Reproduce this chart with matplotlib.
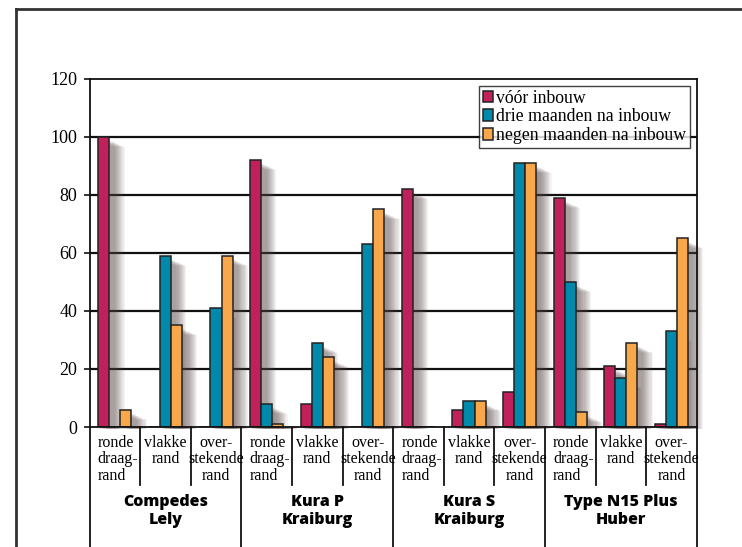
import matplotlib
matplotlib.use("Agg")
import matplotlib.pyplot as plt
from matplotlib.patches import Rectangle
from matplotlib.lines import Line2D
import numpy as np

# ---- data ----
groups = ["Compedes\nLely", "Kura P\nKraiburg", "Kura S\nKraiburg", "Type N15 Plus\nHuber"]
subcats = ["ronde\ndraag-\nrand", "vlakke\nrand", "over-\nstekende\nrand"]
series_names = ["vóór inbouw", "drie maanden na inbouw", "negen maanden na inbouw"]
voor = [100, 0, 0, 92, 8, 0, 82, 6, 12, 79, 21, 1]
drie = [0, 59, 41, 8, 29, 63, 0, 9, 91, 50, 17, 33]
negen = [6, 35, 59, 1, 24, 75, 0, 9, 91, 5, 29, 65]
yticks = [0, 20, 40, 60, 80, 100, 120]

colors = ["#C0215A", "#0189AB", "#F9A74B"]
edge = "#222222"

W, H = 742, 547
fig = plt.figure(figsize=(W / 100, H / 100), dpi=100)
fig.patch.set_facecolor("white")

# axes in pixel terms
L, R, T, B = 89.5, 696.7, 78.7, 427.0
ax = fig.add_axes([L / W, 1 - B / H, (R - L) / W, (B - T) / H])
n = len(voor)
ax.set_xlim(0, n)
ax.set_ylim(0, 120)

px_x = n / (R - L)        # data units per pixel in x
px_y = 120 / (B - T)      # data units per pixel in y

serif = "Liberation Serif"

# gridlines
for v in yticks[1:-1]:
    ax.axhline(v, color="#111111", lw=1.6, zorder=1)

bw = 0.218
offsets = [-bw, 0, bw]
data = [voor, drie, negen]

# soft drop shadows
for si, vals in enumerate(data):
    for i, v in enumerate(vals):
        if v <= 0:
            continue
        x0 = i + 0.5 + offsets[si] - bw / 2
        for k in range(1, 15):
            dx = k * 1.1 * px_x
            dy = (3 + k * 0.5) * px_y
            top = max(v - dy, 0)
            ax.add_patch(Rectangle((x0 + dx, -2 * px_y), bw, top + 2 * px_y,
                                   facecolor="#5a4848", edgecolor="none",
                                   alpha=0.065, zorder=2, clip_on=False))

# bars
for si, vals in enumerate(data):
    xs = np.arange(n) + 0.5 + offsets[si]
    ax.bar(xs, vals, width=bw, color=colors[si], edgecolor=edge, linewidth=1.1,
           zorder=3, label=series_names[si])

# spines / ticks
for s in ["left", "top", "right", "bottom"]:
    ax.spines[s].set_color("#111111")
    ax.spines[s].set_linewidth(1.3)
    ax.spines[s].set_zorder(4)
ax.set_yticks(yticks)
ax.set_yticklabels([str(v) for v in yticks], fontfamily=serif, fontsize=13)
ax.tick_params(axis="y", length=4, width=1.2, pad=5, direction="out", color="#111111")
ax.set_xticks([])

# legend
leg = ax.legend(loc="upper right", bbox_to_anchor=(0.989, 0.979), frameon=True,
                prop={"family": serif, "size": 12.8}, handlelength=0.55, handleheight=0.6,
                handletextpad=0.2, borderpad=0.2, labelspacing=0.1, fancybox=False,
                borderaxespad=0)
leg.get_frame().set_edgecolor("#111111")
leg.get_frame().set_linewidth(1.0)
leg.set_zorder(10)

# lines below axis
trans = ax.get_xaxis_transform()
def ay(py):
    return (B - py) / (B - T)

for i in range(n + 1):
    if i % 3 == 0:
        y_end = ay(547 + 5)
    else:
        y_end = ay(485)
    ax.add_line(Line2D([i, i], [0, y_end], transform=trans, color="#111111",
                       lw=1.3, clip_on=False))

# subcategory labels
for i in range(n):
    lab = subcats[i % 3]
    if i % 3 == 0:
        ax.text(i + 0.16, ay(435), lab, transform=trans, ha="left", va="top",
                fontfamily=serif, fontsize=11.5, linespacing=1.03, multialignment="left")
    else:
        ax.text(i + 0.5, ay(435), lab, transform=trans, ha="center", va="top",
                fontfamily=serif, fontsize=11.5, linespacing=1.03, multialignment="center")

# group labels
for g, lab in enumerate(groups):
    ax.text(g * 3 + 1.5, ay(511), lab, transform=trans, ha="center", va="center",
            fontfamily="Open Sans", fontweight=800, fontsize=11.5, linespacing=1.1)

# figure frame (top and left only)
fig.add_artist(Line2D([16 / W, 1.0], [1 - 9 / H, 1 - 9 / H], transform=fig.transFigure,
                      color="#333333", lw=2))
fig.add_artist(Line2D([16 / W, 16 / W], [1 - 9 / H, 0], transform=fig.transFigure,
                      color="#333333", lw=2))

fig.savefig("out.png", dpi=100)
